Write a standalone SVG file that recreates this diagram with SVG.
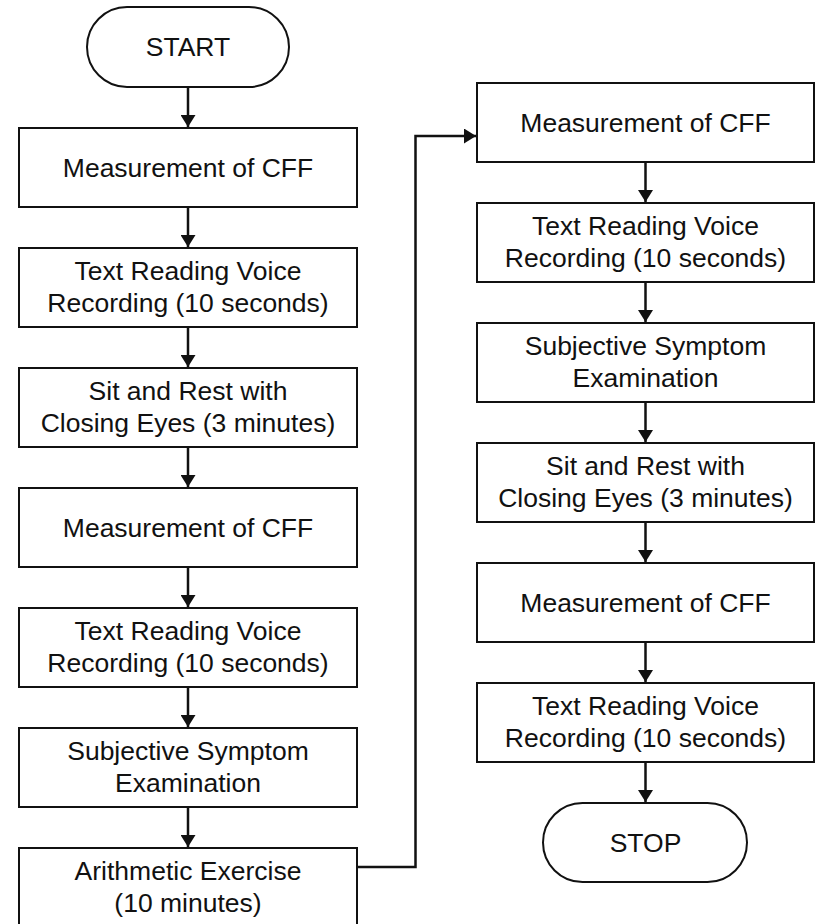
<svg xmlns="http://www.w3.org/2000/svg" width="815" height="924" viewBox="0 0 815 924">
  <style>
    .box { fill: #ffffff; stroke: #111111; stroke-width: 2; }
    .lbl { font-family: "Liberation Sans", Arial, sans-serif; font-size: 26.5px; fill: #111111; text-anchor: middle; }
    .wire { fill: none; stroke: #111111; stroke-width: 2.5; }
  </style>
  <defs>
    <marker id="head" markerWidth="12" markerHeight="15" refX="12" refY="7.5" orient="auto" markerUnits="userSpaceOnUse" viewBox="0 0 12 15">
      <path d="M0,0 L12,7.5 L0,15 Z" fill="#111111"/>
    </marker>
  </defs>
  <rect width="815" height="924" fill="#ffffff"/>

  <!-- connectors -->
  <g id="connectors">
    <line class="wire" x1="188" y1="87" x2="188" y2="127" marker-end="url(#head)"/>
    <line class="wire" x1="188" y1="207" x2="188" y2="247" marker-end="url(#head)"/>
    <line class="wire" x1="188" y1="327" x2="188" y2="367" marker-end="url(#head)"/>
    <line class="wire" x1="188" y1="447" x2="188" y2="487" marker-end="url(#head)"/>
    <line class="wire" x1="188" y1="567" x2="188" y2="607" marker-end="url(#head)"/>
    <line class="wire" x1="188" y1="687" x2="188" y2="727" marker-end="url(#head)"/>
    <line class="wire" x1="188" y1="807" x2="188" y2="847" marker-end="url(#head)"/>
    <polyline class="wire" points="357,867 415.5,867 415.5,136 476,136" marker-end="url(#head)"/>
    <line class="wire" x1="645.5" y1="162" x2="645.5" y2="202" marker-end="url(#head)"/>
    <line class="wire" x1="645.5" y1="282" x2="645.5" y2="322" marker-end="url(#head)"/>
    <line class="wire" x1="645.5" y1="402" x2="645.5" y2="442" marker-end="url(#head)"/>
    <line class="wire" x1="645.5" y1="522" x2="645.5" y2="562" marker-end="url(#head)"/>
    <line class="wire" x1="645.5" y1="642" x2="645.5" y2="682" marker-end="url(#head)"/>
    <line class="wire" x1="645.5" y1="762" x2="645.5" y2="802" marker-end="url(#head)"/>
  </g>

  <!-- left column -->
  <g id="start">
    <rect class="box" x="87" y="7" width="202" height="80" rx="40" ry="40"/>
    <text class="lbl" x="188" y="56">START</text>
  </g>
  <g id="cff1">
    <rect class="box" x="19" y="128" width="338" height="79"/>
    <text class="lbl" x="188" y="177">Measurement of CFF</text>
  </g>
  <g id="voice1">
    <rect class="box" x="19" y="248" width="338" height="79"/>
    <text class="lbl" x="188" y="280">Text Reading Voice</text>
    <text class="lbl" x="188" y="312">Recording (10 seconds)</text>
  </g>
  <g id="rest1">
    <rect class="box" x="19" y="368" width="338" height="79"/>
    <text class="lbl" x="188" y="400">Sit and Rest with</text>
    <text class="lbl" x="188" y="432">Closing Eyes (3 minutes)</text>
  </g>
  <g id="cff2">
    <rect class="box" x="19" y="488" width="338" height="79"/>
    <text class="lbl" x="188" y="537">Measurement of CFF</text>
  </g>
  <g id="voice2">
    <rect class="box" x="19" y="608" width="338" height="79"/>
    <text class="lbl" x="188" y="640">Text Reading Voice</text>
    <text class="lbl" x="188" y="672">Recording (10 seconds)</text>
  </g>
  <g id="symptom1">
    <rect class="box" x="19" y="728" width="338" height="79"/>
    <text class="lbl" x="188" y="760">Subjective Symptom</text>
    <text class="lbl" x="188" y="792">Examination</text>
  </g>
  <g id="arithmetic">
    <rect class="box" x="19" y="848" width="338" height="79"/>
    <text class="lbl" x="188" y="880">Arithmetic Exercise</text>
    <text class="lbl" x="188" y="912">(10 minutes)</text>
  </g>

  <!-- right column -->
  <g id="cff3">
    <rect class="box" x="477" y="83" width="337" height="79"/>
    <text class="lbl" x="645.5" y="132">Measurement of CFF</text>
  </g>
  <g id="voice3">
    <rect class="box" x="477" y="203" width="337" height="79"/>
    <text class="lbl" x="645.5" y="235">Text Reading Voice</text>
    <text class="lbl" x="645.5" y="267">Recording (10 seconds)</text>
  </g>
  <g id="symptom2">
    <rect class="box" x="477" y="323" width="337" height="79"/>
    <text class="lbl" x="645.5" y="355">Subjective Symptom</text>
    <text class="lbl" x="645.5" y="387">Examination</text>
  </g>
  <g id="rest2">
    <rect class="box" x="477" y="443" width="337" height="79"/>
    <text class="lbl" x="645.5" y="475">Sit and Rest with</text>
    <text class="lbl" x="645.5" y="507">Closing Eyes (3 minutes)</text>
  </g>
  <g id="cff4">
    <rect class="box" x="477" y="563" width="337" height="79"/>
    <text class="lbl" x="645.5" y="612">Measurement of CFF</text>
  </g>
  <g id="voice4">
    <rect class="box" x="477" y="683" width="337" height="79"/>
    <text class="lbl" x="645.5" y="715">Text Reading Voice</text>
    <text class="lbl" x="645.5" y="747">Recording (10 seconds)</text>
  </g>
  <g id="stop">
    <rect class="box" x="543" y="803" width="204" height="79" rx="39.5" ry="39.5"/>
    <text class="lbl" x="645.5" y="852">STOP</text>
  </g>
</svg>
